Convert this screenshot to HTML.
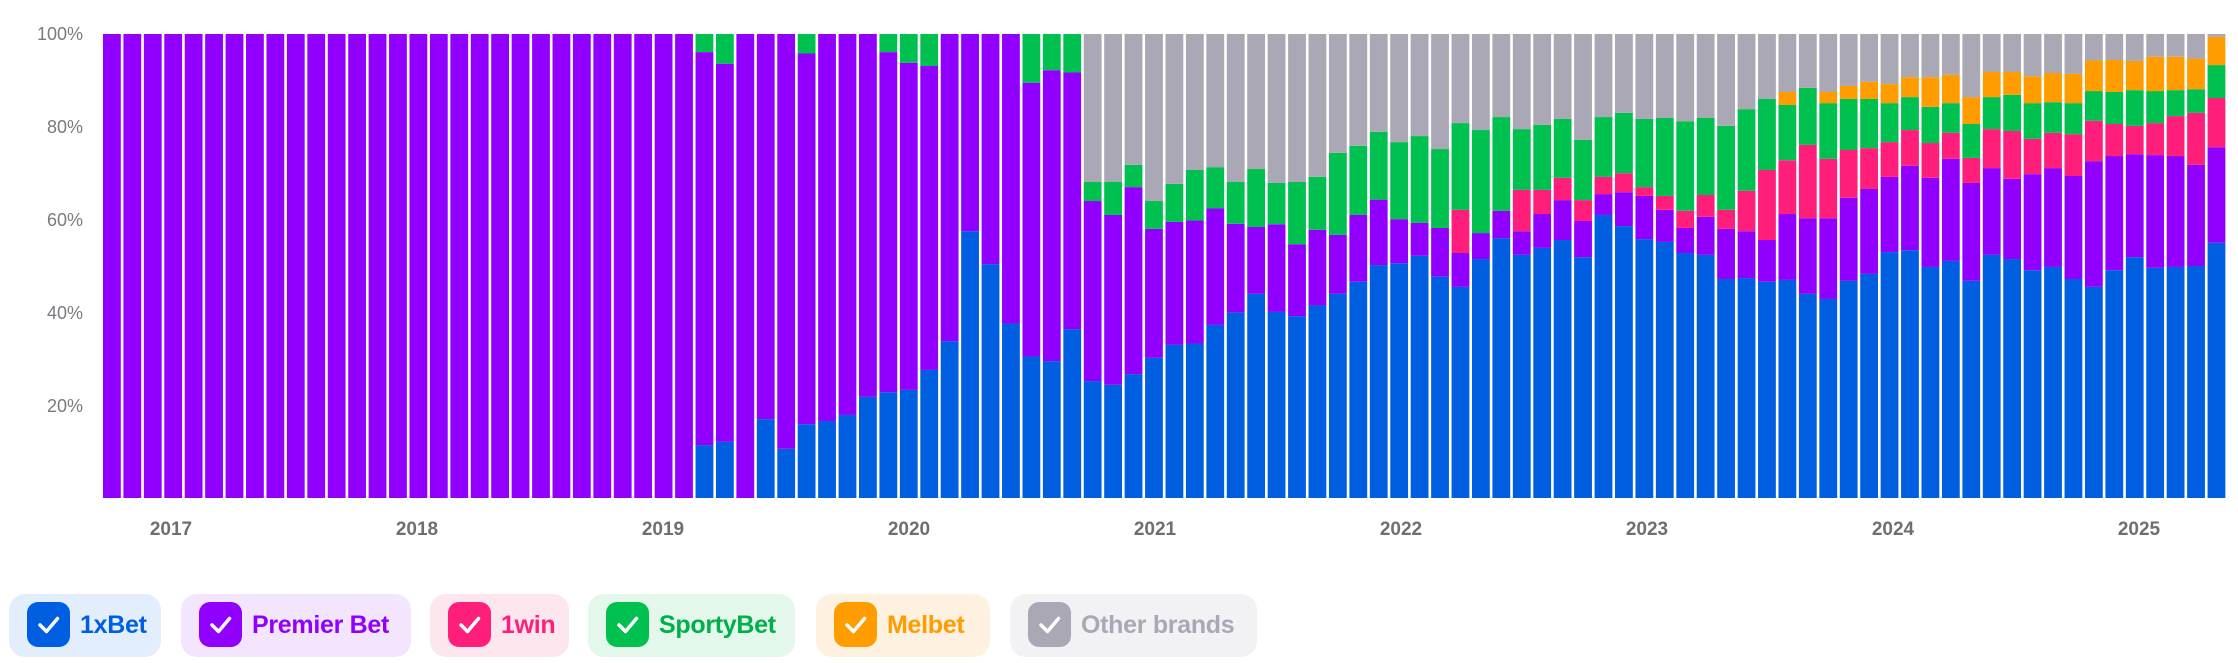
<!DOCTYPE html>
<html><head><meta charset="utf-8"><style>
html,body{margin:0;padding:0;background:#fff;width:2238px;height:663px;overflow:hidden;font-family:"Liberation Sans",sans-serif}
.lg{position:absolute;top:594px;height:63px;border-radius:16px}
.cb{position:absolute;left:18px;top:8px;width:43px;height:45px;border-radius:11px}
.cb svg{position:absolute;left:0;top:0}
.lt{position:absolute;left:71px;top:0;line-height:63px;font-size:25px;font-weight:bold;letter-spacing:-0.3px}
</style></head><body>
<svg id="c" width="2238" height="590" style="position:absolute;left:0;top:0" xmlns="http://www.w3.org/2000/svg">
<g font-family="Liberation Sans, sans-serif" font-size="18" fill="#7a7a80" text-anchor="end">
<text x="83" y="40">100%</text><text x="83" y="133">80%</text><text x="83" y="226">60%</text><text x="83" y="319">40%</text><text x="83" y="412">20%</text>
</g>
<g id="bars"></g>
<g font-family="Liberation Sans, sans-serif" font-size="19" font-weight="bold" fill="#6e6e74" text-anchor="middle">
<text x="171" y="535">2017</text><text x="417" y="535">2018</text><text x="663" y="535">2019</text><text x="909" y="535">2020</text><text x="1155" y="535">2021</text><text x="1401" y="535">2022</text><text x="1647" y="535">2023</text><text x="1893" y="535">2024</text><text x="2139" y="535">2025</text>
</g>
</svg>
<div class="lg" style="left:9px;width:152px;background:#e3eefc"><div class="cb" style="background:#005fe0"></div><div class="lt" style="color:#005fe0">1xBet</div></div>
<div class="lg" style="left:181px;width:230px;background:#f2e5fd"><div class="cb" style="background:#9100ff"></div><div class="lt" style="color:#9100ff">Premier Bet</div></div>
<div class="lg" style="left:430px;width:139px;background:#fde6ee"><div class="cb" style="background:#ff1f7a"></div><div class="lt" style="color:#ff1f7a">1win</div></div>
<div class="lg" style="left:588px;width:207px;background:#e3f7ea"><div class="cb" style="background:#00c050"></div><div class="lt" style="color:#00b04a">SportyBet</div></div>
<div class="lg" style="left:816px;width:174px;background:#fef1e0"><div class="cb" style="background:#ff9c00"></div><div class="lt" style="color:#ff9c00">Melbet</div></div>
<div class="lg" style="left:1010px;width:247px;background:#f2f2f4"><div class="cb" style="background:#a9a8b4"></div><div class="lt" style="color:#a9a8b4">Other brands</div></div>
<script>
(function(){
document.querySelectorAll('.cb').forEach(function(e){e.innerHTML='<svg width="43" height="45"><path d="M13 23 L19.5 29.5 L30.5 16.5" stroke="#fff" stroke-width="3.5" fill="none" stroke-linecap="round" stroke-linejoin="round"/></svg>';});
var D={};
for(var i=0;i<29;i++)D[i]=[0,100];
var early=[[11.4,96.1],[12.1,93.6],[0,100],[17,100],[10.6,100],[15.9,95.8],[16.6,100],[17.9,100],[21.8,100],[22.8,96.1],[23.3,93.8],[27.6,93.1],[33.8,100],[57.5,100],[50.4,100],[37.6,100],[30.5,89.5],[29.5,92.2],[36.4,91.7]];
for(var i=0;i<early.length;i++)D[29+i]=early[i];
var late=[[25.2,64,0,68.1],[24.4,61,0,68.1],[26.7,67,0,71.8],[30.2,58,0,64],[33,59.5,0,67.7],[33.3,59.8,0,70.7],[37.3,62.4,0,71.3],[40,59.1,0,68.1],[44,58.4,0,70.9],[40.1,59,0,67.9],[39.2,54.7,0,68.1],[41.5,57.8,0,69.2],[44,56.7,0,74.4],[46.6,61,0,75.9],[50.2,64.3,0,78.9],[50.6,60.1,0,76.7],[52.2,59.3,0,78],[47.7,58.2,0,75.2],[45.5,52.8,62.1,80.8],[51.5,57.1,0,79.3],[56,61.9,0,82.1],[52.4,57.5,66.4,79.5],[53.9,61.2,66.4,80.4],[55.6,64.2,69,81.7],[51.9,59.7,64.2,77.2],[61,65.5,69.2,82.1],[58.6,65.9,70,83],[55.8,65.1,67,81.7],[55.2,62.1,65.1,81.9],[52.8,58.2,61.9,81.2],[52.4,60.6,65.3,81.9],[47.2,58,62.1,80.2],[47.4,57.5,66.2,83.8],[46.6,55.6,70.7,86],[47,61.2,72.8,84.7,87.5],[44,60.3,76.1,88.4],[42.9,60.3,73.1,85.1,87.5],[46.8,64.7,75,86,88.8],[48.3,66.6,75.4,86,89.7],[53,69.2,76.7,85.1,89.2],[53.4,71.6,79.3,86.4,90.7],[49.8,69,76.5,84.3,90.7],[51.1,73.1,78.7,85.1,91.2],[46.8,67.9,73.3,80.6,86.4],[52.4,71.1,79.5,86.4,91.8],[51.5,68.8,79.1,86.9,91.8],[49.1,69.8,77.4,85.1,90.9],[49.8,71.1,78.7,85.3,91.6],[47.2,69.4,78.4,85.1,91.4],[45.5,72.6,81.3,87.7,94.3],[49.1,73.7,80.6,87.5,94.4],[51.9,74.1,80.2,87.9,94.2],[49.6,73.9,80.8,87.7,95.1],[49.8,73.7,82.3,87.9,95.1],[50,71.8,83,88.1,94.7],[55,75.6,86.2,93.3,99.4]];
var cols=['#005fe0','#9100ff','#ff1f7a','#00c050','#ff9c00','#a9a8b4'];
var out='',yTop=34,yBot=498,H=yBot-yTop,pitch=2125/104,w=17.8;
function yy(p){return yBot-p/100*H;}
for(var i=0;i<104;i++){
 var x=103+pitch*i,segs;
 if(i<48){var d=D[i];segs=[d[0],d[1],d[1],d[1],d[1],100];if(d[1]<100){segs=[d[0],d[1],d[1],100,100,100];}}
 else{var d=late[i-48];var b=d[0],p=d[1],k=d[2]||p,g=d[3],o=d[4]||g;segs=[b,p,k,g,o,100];}
 var prev=0;
 for(var s=0;s<6;s++){var v=segs[s];if(v>prev+0.01){out+='<rect x="'+x.toFixed(2)+'" y="'+yy(v).toFixed(2)+'" width="'+w+'" height="'+(yy(prev)-yy(v)).toFixed(2)+'" fill="'+cols[s]+'"/>';prev=v;}}
}
document.getElementById('bars').innerHTML=out;
})();
</script>
</body></html>
